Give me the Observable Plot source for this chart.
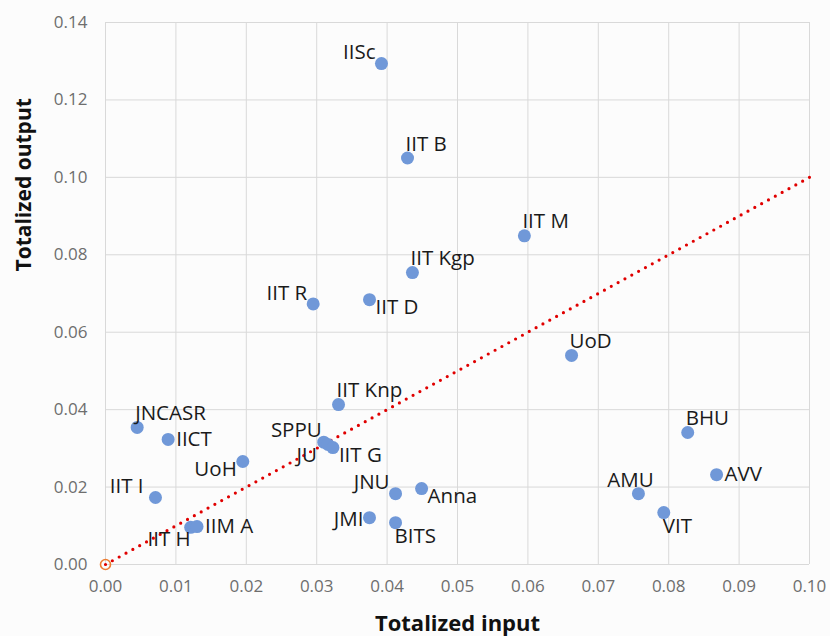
<!DOCTYPE html>
<html>
<head>
<meta charset="utf-8">
<script src="https://cdn.jsdelivr.net/npm/d3@7"></script>
<script src="https://cdn.jsdelivr.net/npm/@observablehq/plot@0.6"></script>
<style>
  html, body { margin: 0; padding: 0; background: #fcfcfc; }
  #chart { width: 830px; height: 636px; }
</style>
</head>
<body>
<div id="chart"></div>
<script>
const names   = ["IISc","IIT B","IIT M","IIT Kgp","IIT R","IIT D","UoD","IIT Knp","JNCASR","IICT","SPPU","JU","IIT G","UoH","IIT I","IIT H","IIM A","JNU","Anna","JMI","BITS","BHU","AVV","AMU","VIT"];
const inputs  = [0.0392,0.0429,0.0595,0.0436,0.0295,0.0375,0.0662,0.0331,0.0045,0.0089,0.0310,0.0316,0.0323,0.0195,0.0071,0.0121,0.0130,0.0412,0.0449,0.0375,0.0412,0.0827,0.0868,0.0757,0.0793];
const outputs = [0.1294,0.1050,0.0849,0.0754,0.0673,0.0684,0.0540,0.0413,0.0354,0.0323,0.0316,0.0310,0.0302,0.0266,0.0173,0.0096,0.0098,0.0183,0.0196,0.0121,0.0108,0.0341,0.0232,0.0183,0.0134];
const labelSide = ["NW","NE","NE","NE","NW","SE","NE","NE","NE","E","NWN","SWW","SE","SW","NWW","SSW","E","NW","SE","W","S","NE","E","N","S"];
const xTicks = [0,0.01,0.02,0.03,0.04,0.05,0.06,0.07,0.08,0.09,0.10];
const yTicks = [0,0.02,0.04,0.06,0.08,0.10,0.12,0.14];
const parityLine = [{x:0,y:0},{x:0.1,y:0.1}];
const origin = [{x:0,y:0}];

const data = names.map((n,i)=>({name:n, x:inputs[i], y:outputs[i], side:labelSide[i]}));

const sides = {
  NW:  {textAnchor:"end",    dx:-6,  dy:-11},
  NWN: {textAnchor:"end",    dx:-2,  dy:-12},
  NWW: {textAnchor:"end",    dx:-12, dy:-11},
  NE:  {textAnchor:"start",  dx:-2,  dy:-14},
  E:   {textAnchor:"start",  dx:8,   dy:0},
  SE:  {textAnchor:"start",  dx:6,   dy:8},
  SW:  {textAnchor:"end",    dx:-6,  dy:8},
  SWW: {textAnchor:"end",    dx:-11, dy:11},
  W:   {textAnchor:"end",    dx:-6,  dy:2},
  S:   {textAnchor:"start",  dx:-1,  dy:14},
  SSW: {textAnchor:"end",    dx:0,   dy:12},
  N:   {textAnchor:"middle", dx:-8,  dy:-13}
};

const labelMarks = Object.entries(sides).map(([k,o]) =>
  Plot.text(data.filter(d=>d.side===k), {x:"x", y:"y", text:"name", fill:"#1a1a1a", fontSize:20.5, ...o})
);

const chart = Plot.plot({
  width: 830,
  height: 636,
  marginLeft: 105,
  marginRight: 21,
  marginTop: 22,
  marginBottom: 72,
  style: {fontFamily: "'Open Sans', sans-serif", background: "#fcfcfc"},
  x: {domain:[0,0.1], ticks: xTicks, tickFormat: d3.format(".2f"), label: null},
  y: {domain:[0,0.14], ticks: yTicks, tickFormat: d3.format(".2f"), label: null},
  marks: [
    Plot.gridX(xTicks, {stroke:"#d9d9d9", strokeOpacity:1, strokeWidth:1}),
    Plot.gridY(yTicks, {stroke:"#d9d9d9", strokeOpacity:1, strokeWidth:1}),
    Plot.axisX(xTicks, {tickSize:0, tickPadding:15, fontSize:17, fill:"#6e6e6e", tickFormat:d3.format(".2f")}),
    Plot.axisY(yTicks, {tickSize:0, tickPadding:18, fontSize:17, fill:"#6e6e6e", tickFormat:d3.format(".2f")}),
    Plot.line(parityLine, {x:"x", y:"y", stroke:"#e00000", strokeWidth:3.2, strokeDasharray:"0 7.8", strokeLinecap:"round"}),
    Plot.dot(origin, {x:"x", y:"y", r:5, stroke:"#ed7d31", strokeWidth:1.6, fill:"none"}),
    Plot.dot(data, {x:"x", y:"y", r:6.5, fill:"#7098d8"}),
    ...labelMarks,
    Plot.text(["Totalized input"], {frameAnchor:"bottom", dy:66, text:d=>d, fontSize:22, fontWeight:"bold", fill:"#111"}),
    Plot.text(["Totalized output"], {frameAnchor:"left", dx:-81, dy:-22, rotate:-90, text:d=>d, fontSize:21, fontWeight:"bold", fill:"#111"})
  ]
});
document.getElementById("chart").appendChild(chart);
</script>
</body>
</html>
